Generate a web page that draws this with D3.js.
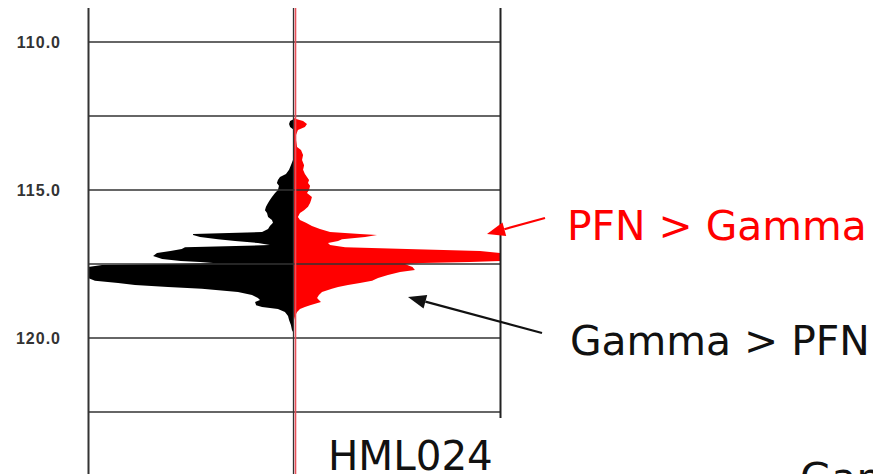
<!DOCTYPE html>
<html><head><meta charset="utf-8">
<script src="https://cdn.jsdelivr.net/npm/d3@7"></script>
<style>body{margin:0;background:#fff;overflow:hidden}svg{display:block}</style>
</head><body><svg id="c" width="873" height="474"></svg>
<script>
const depth = [112.57,112.60,112.67,112.77,112.87,112.97,113.14,113.31,113.55,113.65,
  113.82,113.99,114.16,114.32,114.46,114.56,114.66,114.76,114.86,115.00,
  115.10,115.24,115.34,115.44,115.57,115.68,115.78,115.91,116.01,116.11,
  116.22,116.32,116.42,116.49,116.52,116.59,116.66,116.72,116.79,116.86,
  116.93,116.99,117.06,117.13,117.23,117.33,117.40,117.43,117.47,117.50,
  117.53,117.60,117.70,117.77,117.87,117.97,118.07,118.14,118.21,118.28,
  118.34,118.45,118.55,118.65,118.72,118.78,118.89,118.95,119.02,119.12,
  119.26,119.39,119.56,119.73,119.86];
const gammaOverPfn = [0,0,1.9,2.4,1.9,0,0,0,0,0,
  0,0.5,1.5,2.4,3.9,6.8,7.8,8.3,7.3,7.8,
  9.2,10.7,11.7,12.6,13.6,14.1,13.1,12.6,10.7,10.2,
  11.7,12.6,15.5,49.0,49.0,45.6,36.9,28.6,17.5,11.7,
  52.9,54.5,60.0,66.5,68.4,64.0,55.0,45.6,39.3,60.0,
  93.2,100,100,100,100,100,96.6,85.4,77.2,61.2,
  44.7,27.2,20.4,17.5,16.5,18.9,18.4,15.5,7.8,4.4,
  2.9,2.4,1.5,1.0,0];
const pfnOverGamma = [0,1.0,4.4,6.3,5.3,1.9,1.0,1.0,1.5,3.4,
  4.4,3.9,4.9,4.4,5.3,6.3,7.3,6.8,7.8,7.3,
  6.3,8.7,8.3,7.8,6.8,4.9,2.9,1.9,2.9,5.8,
  8.7,12.6,17.5,32.0,40.3,34.5,23.3,21.4,16.5,17.5,
  24.8,54.9,90.3,100,100,100,100,85.4,62.6,53.9,
  55.0,57.5,58.7,51.5,45.6,40.8,37.9,32.0,26.2,21.4,
  18.4,13.6,12.1,11.2,12.1,13.1,7.8,5.3,2.9,1.5,
  0.5,0,0,0,0];
const depthTicks = [110, 115, 120];
const gridDepths = [110, 112.5, 115, 117.5, 120, 122.5];
const labelPfn = "PFN > Gamma";
const labelGamma = "Gamma > PFN";
const labelWell = "HML024";
const labelCut = "Gamma";

const svg = d3.select("#c");
const y = d3.scaleLinear().domain([110, 120]).range([42, 338]);
const xL = d3.scaleLinear().domain([0, 100]).range([294, 88]);
const xR = d3.scaleLinear().domain([0, 100]).range([294, 500]);
const data = depth.map((d, i) => ({d, g: gammaOverPfn[i], p: pfnOverGamma[i]}));

svg.append("clipPath").attr("id", "track").append("rect")
  .attr("x", 88).attr("y", 8).attr("width", 412).attr("height", 466);

const fills = svg.append("g").attr("clip-path", "url(#track)");
fills.append("path").datum(data).attr("fill", "#000")
  .attr("d", d3.area().y(d => y(d.d)).x0(xL(0)).x1(d => xL(d.g)));
fills.append("path").datum(data).attr("fill", "#ff0000")
  .attr("d", d3.area().y(d => y(d.d)).x0(xR(0)).x1(d => xR(d.p)));

// grid
svg.append("g").selectAll("line").data(gridDepths).join("line")
  .attr("x1", 88).attr("x2", 501)
  .attr("y1", d => y(d)).attr("y2", d => y(d))
  .attr("stroke", "#333").attr("stroke-width", 1.6);

// borders
svg.append("line").attr("x1", 88.5).attr("x2", 88.5).attr("y1", 8).attr("y2", 474)
  .attr("stroke", "#333").attr("stroke-width", 2);
svg.append("line").attr("x1", 500.5).attr("x2", 500.5).attr("y1", 8).attr("y2", 418)
  .attr("stroke", "#222").attr("stroke-width", 2);
svg.append("line").attr("x1", 293.5).attr("x2", 293.5).attr("y1", 8).attr("y2", 474)
  .attr("stroke", "#333").attr("stroke-width", 1.3);
svg.append("line").attr("x1", 295.5).attr("x2", 295.5).attr("y1", 8).attr("y2", 474)
  .attr("stroke", "#e8505a").attr("stroke-width", 1.6);

// axis labels
const ax = svg.append("g").attr("transform", "translate(61,0)")
  .call(d3.axisLeft(y).tickValues(depthTicks).tickFormat(d3.format(".1f")).tickSize(0).tickPadding(0));
ax.select(".domain").remove();
ax.selectAll("text").attr("fill", "#333").attr("font-family", "Liberation Sans, Arial, sans-serif")
  .attr("font-size", 16).attr("font-weight", "bold").attr("letter-spacing", "1px");

// annotations
const font = "DejaVu Sans, Verdana, sans-serif";
svg.append("text").attr("x", 567).attr("y", 240).attr("fill", "#ff0000")
  .attr("font-family", font).attr("font-size", 40.8).text(labelPfn);
svg.append("text").attr("x", 570).attr("y", 355).attr("fill", "#111")
  .attr("font-family", font).attr("font-size", 40.8).text(labelGamma);
svg.append("text").attr("x", 328).attr("y", 470).attr("fill", "#111")
  .attr("font-family", font).attr("font-size", 40.4).text(labelWell);
svg.append("text").attr("x", 800).attr("y", 492).attr("fill", "#111")
  .attr("font-family", font).attr("font-size", 40.8).text(labelCut);

function arrow(x1, y1, x2, y2, color) {
  const ang = Math.atan2(y2 - y1, x2 - x1), len = 18, hw = 7;
  const bx = x2 - len * Math.cos(ang), by = y2 - len * Math.sin(ang);
  svg.append("line").attr("x1", x1).attr("y1", y1).attr("x2", bx).attr("y2", by)
    .attr("stroke", color).attr("stroke-width", 2.2);
  const px = -Math.sin(ang) * hw, py = Math.cos(ang) * hw;
  svg.append("path").attr("fill", color)
    .attr("d", `M${x2},${y2}L${bx + px},${by + py}L${bx - px},${by - py}Z`);
}
arrow(545, 218, 487, 234, "#ff0000");
arrow(542, 333, 408, 297, "#111");
</script></body></html>
